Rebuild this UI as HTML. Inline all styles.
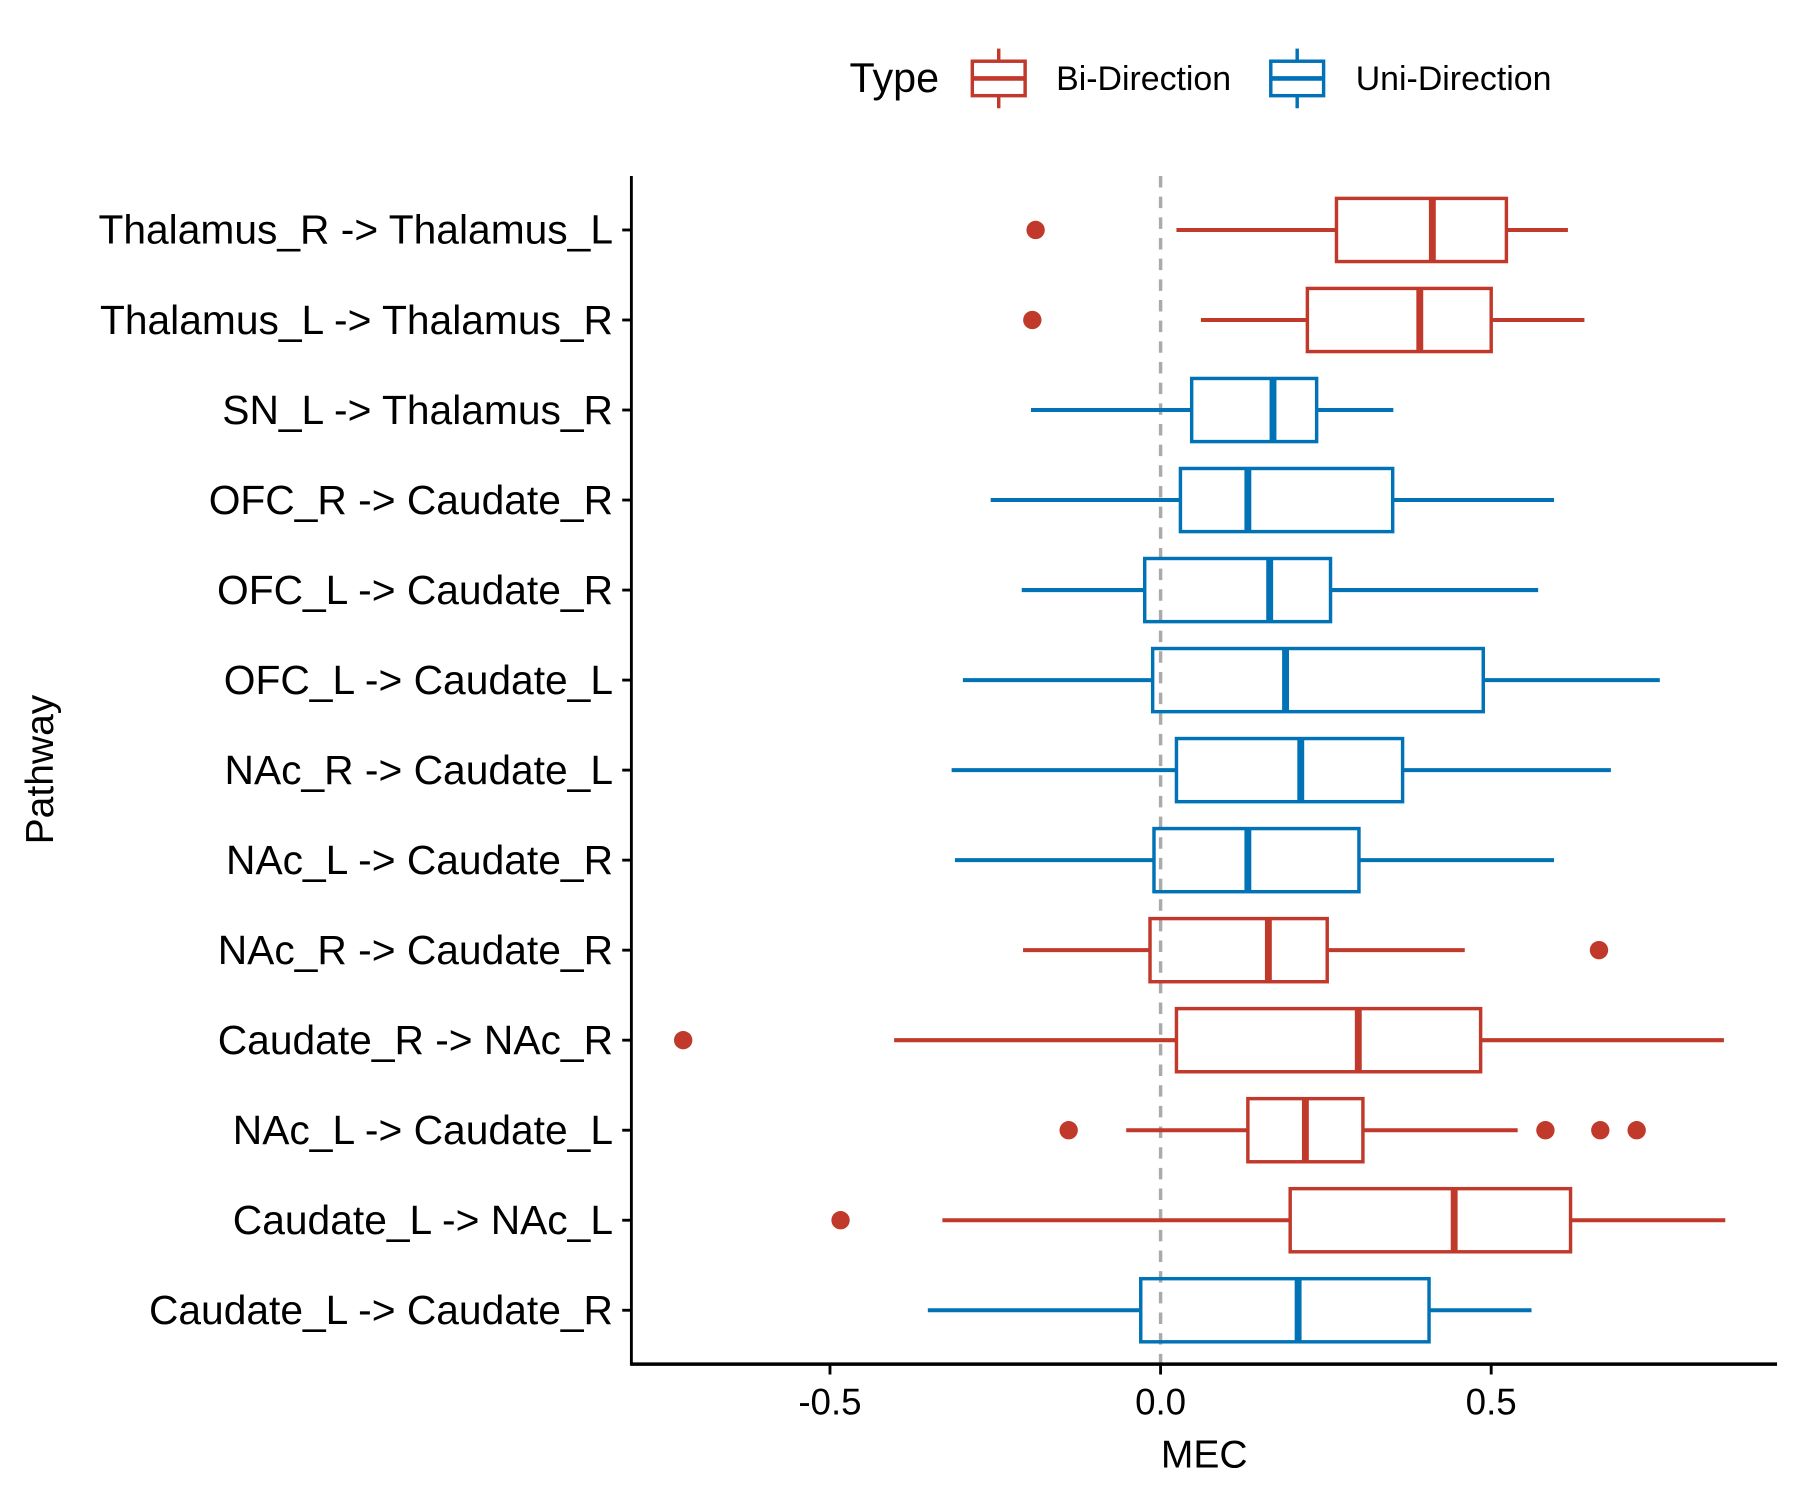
<!DOCTYPE html>
<html><head><meta charset="utf-8"><style>html,body{margin:0;padding:0;background:#fff}svg{display:block}</style></head>
<body>
<svg id="chart" width="1800" height="1500" viewBox="0 0 1568 1306" xmlns="http://www.w3.org/2000/svg" font-family="'Liberation Sans', sans-serif">
<rect width="1568" height="1306" fill="#fff"/>
<g>
<text x="740" y="80" font-size="36" fill="#000">Type</text>
<g>
<line x1="870" y1="42" x2="870" y2="94" stroke="#C0392B" stroke-width="3"/>
<rect x="847" y="53" width="46" height="30" fill="#fff" stroke="#C0392B" stroke-width="3"/>
<line x1="847" y1="68" x2="893" y2="68" stroke="#C0392B" stroke-width="4"/>
<text x="920" y="78" font-size="29.5" fill="#000">Bi-Direction</text></g>
<g>
<line x1="1130" y1="42" x2="1130" y2="94" stroke="#0072B5" stroke-width="3"/>
<rect x="1107" y="53" width="46" height="30" fill="#fff" stroke="#0072B5" stroke-width="3"/>
<line x1="1107" y1="68" x2="1153" y2="68" stroke="#0072B5" stroke-width="4"/>
<text x="1181" y="78" font-size="29.5" fill="#000">Uni-Direction</text></g>
</g>
<g id="plot"></g>
</svg>
<script>
const categories = ["Thalamus_R -> Thalamus_L","Thalamus_L -> Thalamus_R","SN_L -> Thalamus_R","OFC_R -> Caudate_R","OFC_L -> Caudate_R","OFC_L -> Caudate_L","NAc_R -> Caudate_L","NAc_L -> Caudate_R","NAc_R -> Caudate_R","Caudate_R -> NAc_R","NAc_L -> Caudate_L","Caudate_L -> NAc_L","Caudate_L -> Caudate_R"];
const types = ["Bi","Bi","Uni","Uni","Uni","Uni","Uni","Uni","Bi","Bi","Bi","Bi","Uni"];
const whiskLow = [0.024,0.061,-0.196,-0.257,-0.210,-0.299,-0.316,-0.311,-0.208,-0.403,-0.052,-0.330,-0.352];
const q1 = [0.266,0.222,0.047,0.030,-0.024,-0.012,0.024,-0.010,-0.016,0.024,0.132,0.196,-0.030];
const medians = [0.411,0.392,0.170,0.132,0.165,0.189,0.212,0.132,0.163,0.299,0.219,0.444,0.208];
const q3 = [0.523,0.500,0.236,0.351,0.257,0.488,0.366,0.300,0.252,0.484,0.306,0.620,0.406];
const whiskHigh = [0.616,0.641,0.352,0.595,0.571,0.755,0.681,0.595,0.460,0.852,0.540,0.854,0.561];
const outliers = [[-0.189],[-0.194],[],[],[],[],[],[],[0.663],[-0.722],[-0.139,0.582,0.665,0.720],[-0.484],[]];
const xTicks = [-0.5,0.0,0.5];
const xTickLabels = ["-0.5","0.0","0.5"];

const NS="http://www.w3.org/2000/svg";
const g=document.getElementById('plot');
const X=v=>1011+v*576;
const Y=i=>200+i*78.42;
const col={Bi:"#C0392B",Uni:"#0072B5"};
function mk(t,a,p){const e=document.createElementNS(NS,t);for(const k in a)e.setAttribute(k,a[k]);(p||g).appendChild(e);return e;}

const zl=mk('line',{x1:X(0),x2:X(0),y1:153,y2:1188,stroke:'#aaa','stroke-width':3,'stroke-dasharray':'10,8'});



categories.forEach((c,i)=>{
  const y=Y(i), cl=col[types[i]];
  const grp=mk('g',{});
  
  
  mk('line',{x1:X(whiskLow[i]),x2:X(q1[i]),y1:y,y2:y,stroke:cl,'stroke-width':3.5},grp);
  mk('line',{x1:X(q3[i]),x2:X(whiskHigh[i]),y1:y,y2:y,stroke:cl,'stroke-width':3.5},grp);
  mk('rect',{x:X(q1[i]),y:y-27.5,width:X(q3[i])-X(q1[i]),height:55,fill:'none',stroke:cl,'stroke-width':3},grp);
  mk('line',{x1:X(medians[i]),x2:X(medians[i]),y1:y-27.5,y2:y+27.5,stroke:cl,'stroke-width':6},grp);
  outliers[i].forEach(o=>{
    const d=mk('circle',{cx:X(o),cy:y,r:8,fill:cl});
    
    
  });
  const t=mk('text',{x:534,y:y+12,'font-size':35.5,'text-anchor':'end',fill:'#000'});
  t.textContent=c;
  
  
  mk('line',{x1:542,x2:550,y1:y,y2:y,stroke:'#000','stroke-width':2.5});
});

const ya=mk('line',{x1:550,x2:550,y1:153,y2:1189,stroke:'#000','stroke-width':2.5});


const xa=mk('line',{x1:549,x2:1548,y1:1188,y2:1188,stroke:'#000','stroke-width':3});


xTicks.forEach((v,k)=>{
  mk('line',{x1:X(v),x2:X(v),y1:1188,y2:1197,stroke:'#000','stroke-width':2.5});
  const t=mk('text',{x:X(v),y:1232,'font-size':32,'text-anchor':'middle',fill:'#000'});
  t.textContent=xTickLabels[k];
  
  
});
const xt=mk('text',{x:1049,y:1278,'font-size':34,'text-anchor':'middle',fill:'#000'});
xt.textContent='MEC';


const yt=mk('text',{x:0,y:0,'font-size':34,'text-anchor':'middle',fill:'#000',transform:'translate(46,670) rotate(-90)'});
yt.textContent='Pathway';


</script>
</body></html>
